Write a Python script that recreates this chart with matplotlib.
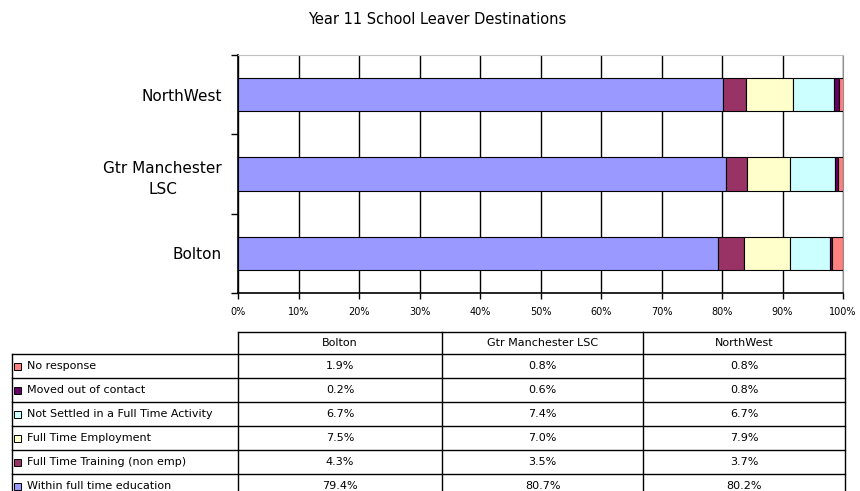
import matplotlib
matplotlib.use("Agg")
import matplotlib.pyplot as plt
from matplotlib.patches import Rectangle

plt.rcParams['font.family'] = ['DejaVu Sans']

categories = ["Bolton", "Gtr Manchester\nLSC", "NorthWest"]
table_cols = ["Bolton", "Gtr Manchester LSC", "NorthWest"]
series_names = ["Within full time education", "Full Time Training (non emp)",
                "Full Time Employment", "Not Settled in a Full Time Activity",
                "Moved out of contact", "No response"]
series_colors = ["#9999FF", "#993366", "#FFFFCC", "#CCFFFF", "#660066", "#FF8080"]
values = {
    "Within full time education": [79.4, 80.7, 80.2],
    "Full Time Training (non emp)": [4.3, 3.5, 3.7],
    "Full Time Employment": [7.5, 7.0, 7.9],
    "Not Settled in a Full Time Activity": [6.7, 7.4, 6.7],
    "Moved out of contact": [0.2, 0.6, 0.8],
    "No response": [1.9, 0.8, 0.8],
}
xticks = list(range(0, 101, 10))
title = "Year 11 School Leaver Destinations"

W, H = 860, 491
fig = plt.figure(figsize=(W / 100, H / 100), dpi=100)

# main chart axes (pixel placement)
L, R, T, B = 238, 843, 55, 293
ax = fig.add_axes([L / W, 1 - B / H, (R - L) / W, (B - T) / H])
ax.set_xlim(0, 100)
ax.set_ylim(-0.5, 2.5)
left = [0.0] * 3
for name, col in zip(series_names, series_colors):
    v = values[name]
    ax.barh(range(3), v, left=left, height=0.42, color=col,
            edgecolor='black', linewidth=0.8, zorder=3)
    left = [a + b for a, b in zip(left, v)]
ax.set_xticks(xticks)
ax.set_xticklabels([f"{t}%" for t in xticks], fontsize=7)
ax.set_yticks([-0.5, 0.5, 1.5, 2.5], minor=False)
ax.set_yticklabels([])
ax.set_yticks(range(3), minor=True)
ax.set_yticklabels(categories, minor=True, fontsize=11)
ax.tick_params(axis='y', which='minor', length=0, pad=11.5)
ax.tick_params(axis='y', which='major', length=5, width=1)
ax.tick_params(axis='x', length=4, width=1, pad=6)
for lbl in ax.get_yticklabels(minor=True):
    lbl.set_multialignment('center')
    lbl.set_linespacing(1.5)
ax.grid(axis='x', color='black', linewidth=1, zorder=0)
ax.spines['top'].set_color('#c0c0c0')
ax.spines['right'].set_color('#909090')
ax.spines['left'].set_linewidth(1.2)
ax.spines['bottom'].set_linewidth(1.2)

# title
fig.text(437 / W, 1 - 19 / H, title, ha='center', va='center', fontsize=10.5)

# table overlay in pixel coordinates
tx = fig.add_axes([0, 0, 1, 1])
tx.set_xlim(0, W)
tx.set_ylim(H, 0)
tx.axis('off')

col_edges = [238, 442, 643, 845]
header_top, header_bot = 332, 354
row_h = 24
lw = 1.0
fs = 8
# header
tx.plot([col_edges[0], col_edges[-1]], [header_top, header_top], color='black', lw=lw)
for cx in col_edges:
    tx.plot([cx, cx], [header_top, H + 5], color='black', lw=lw)
tx.plot([12, 12], [header_bot, H + 5], color='black', lw=lw)
for i, c in enumerate(table_cols):
    tx.text((col_edges[i] + col_edges[i + 1]) / 2, (header_top + header_bot) / 2, c,
            ha='center', va='center', fontsize=fs)
tx.plot([12, col_edges[-1]], [header_bot, header_bot], color='black', lw=lw)

rows = list(reversed(series_names))
rcols = list(reversed(series_colors))
for r, (name, col) in enumerate(zip(rows, rcols)):
    y0 = header_bot + r * row_h
    y1 = y0 + row_h
    tx.plot([12, col_edges[-1]], [y1, y1], color='black', lw=lw)
    yc = (y0 + y1) / 2
    tx.add_patch(Rectangle((14, yc - 3.5), 7, 7, facecolor=col, edgecolor='black', lw=0.7))
    tx.text(27, yc, name, ha='left', va='center', fontsize=fs)
    for i in range(3):
        tx.text((col_edges[i] + col_edges[i + 1]) / 2, yc, f"{values[name][i]:.1f}%",
                ha='center', va='center', fontsize=fs)

fig.savefig("out.png", dpi=100)
